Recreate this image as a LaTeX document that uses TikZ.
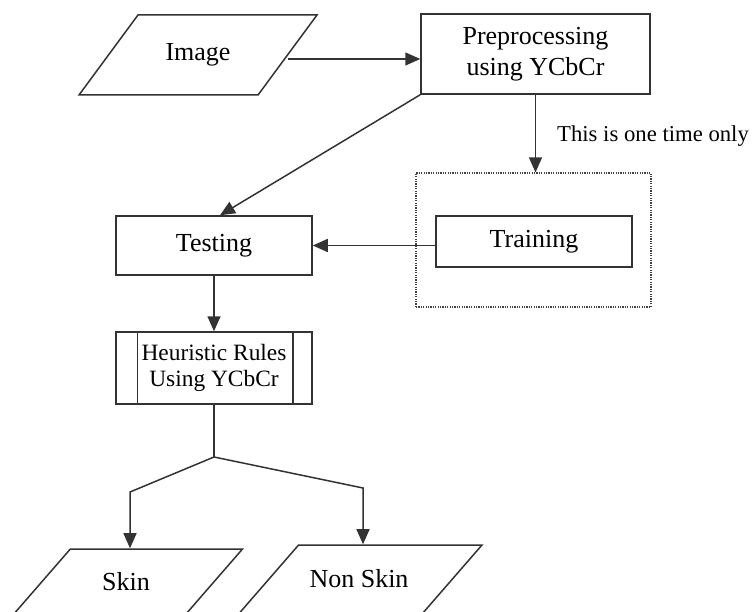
\documentclass[tikz,border=0pt]{standalone}
\usepackage{fontspec}
\setmainfont{Liberation Serif}
\usetikzlibrary{shapes.geometric,arrows.meta}
\begin{document}
\begin{tikzpicture}[x=1pt,y=-1pt,
  line/.style={draw=black!80,line width=1.5pt},
  arr/.style={line,-{Triangle[length=15pt,width=13pt]}},
  box/.style={line,rectangle,align=center,inner sep=0pt,font=\fontsize{26}{31}\selectfont},
  io/.style={box,trapezium,trapezium stretches body,text height=18pt,text depth=6pt,inner xsep=0pt}]
\clip (0,0) rectangle (752,612);
% shapes
\node[io,trapezium left angle=53.6,trapezium right angle=126.4,inner ysep=28pt,minimum width=238pt] (img) at (198,55) {Image};
\node[box,minimum width=229pt,minimum height=80pt] (prep) at (535.5,54) {Preprocessing\\using YCbCr};
\node[draw=black!75,line width=1.2pt,dash pattern=on 1.2pt off 1.2pt,minimum width=235pt,minimum height=134pt] (group) at (533.5,240) {};
\node[box,minimum width=196pt,minimum height=51pt] (train) at (534,241.5) {Training};
\node[box,minimum width=196pt,minimum height=59pt] (test) at (214,245.5) {Testing};
\node[box,minimum width=196pt,minimum height=72pt,font=\fontsize{23.4}{26}\selectfont] (heur) at (214,368) {Heuristic Rules\\Using YCbCr};
\draw[line] ([xshift=22pt]heur.north west) -- ([xshift=22pt]heur.south west);
\draw[line] ([xshift=-20pt]heur.north east) -- ([xshift=-20pt]heur.south east);
\node[io,trapezium left angle=49,trapezium right angle=131,inner ysep=23pt,minimum width=233pt] (skin) at (126,584) {Skin};
\node[io,trapezium left angle=49,trapezium right angle=131,inner ysep=24pt,minimum width=246pt] (nonskin) at (359,581) {Non Skin};
\node[anchor=base west,inner sep=0pt,font=\fontsize{22.7}{26}\selectfont] (once) at (557,142) {This is one time only};
% connectors
\coordinate (imgOut) at ([yshift=-4pt]img.east);
\draw[arr] (imgOut) -- (imgOut -| prep.west);
\draw[arr] (prep.south) -- (prep.south |- group.north);
\draw[arr] (prep.south west) -- ([xshift=6pt]test.north);
\coordinate (trainOut) at ([yshift=-4pt]train.west);
\draw[arr] (trainOut) -- (trainOut -| test.east);
\draw[arr] (test.south) -- (heur.north);
\coordinate (split) at (214,457);
\coordinate (skinBend) at (130,492);
\coordinate (nonBend) at (363,488);
\draw[line] (heur.south) -- (split);
\draw[arr] (split) -- (skinBend) -- (skinBend |- skin.north);
\draw[arr] (split) -- (nonBend) -- (nonBend |- nonskin.north);
\end{tikzpicture}
\end{document}
